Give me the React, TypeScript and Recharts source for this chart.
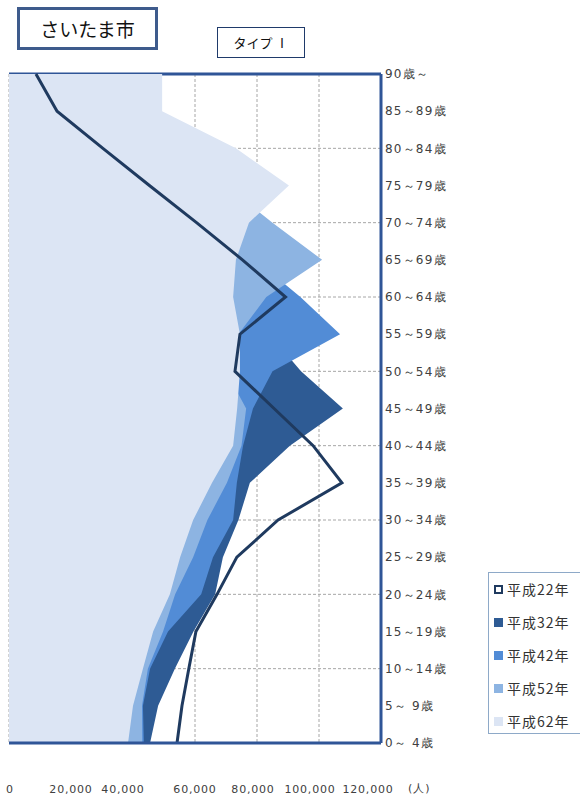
import { ComposedChart, Area, Line, XAxis, YAxis, CartesianGrid, ReferenceLine } from 'recharts';

// 年齢階級（上から90歳～、下が0～4歳）
const AGES = [
    '90歳～', '85～89歳', '80～84歳', '75～79歳', '70～74歳', '65～69歳', '60～64歳',
    '55～59歳', '50～54歳', '45～49歳', '40～44歳', '35～39歳', '30～34歳', '25～29歳',
    '20～24歳', '15～19歳', '10～14歳', '5～ 9歳', '0～ 4歳',
];

// 人口（人）
const H22 = [8700, 15500, 30300, 45300, 60500, 75300, 89200, 74500, 72900, 85500, 98100, 107400, 86800, 73500, 67100, 60300, 58000, 55800, 54200];
const H32 = [15000, 27000, 48000, 67000, 80000, 72000, 71500, 84000, 94200, 107700, 90600, 77700, 74000, 69000, 66500, 59500, 53500, 48100, 45500];
const H42 = [25000, 34000, 62000, 63000, 65000, 79500, 94000, 106800, 85000, 78700, 75500, 73500, 72300, 65800, 62000, 51300, 45500, 43200, 43500];
const H52 = [30000, 40000, 55000, 70000, 85000, 101000, 83000, 74000, 70000, 76500, 75000, 70300, 64000, 59400, 53600, 49700, 44800, 42900, 43000];
const H62 = [49400, 49400, 73200, 90300, 77400, 73200, 72300, 74500, 74500, 73600, 72300, 65500, 59400, 55200, 51900, 46500, 43200, 40000, 38400];

const X_TICKS = [0, 20000, 40000, 60000, 80000, 100000, 120000];
const GRID_AGES = ['80～84歳', '70～74歳', '60～64歳', '50～54歳', '40～44歳', '30～34歳', '20～24歳', '10～14歳'];
const LEFT_TICK_AGES = ['80～84歳', '60～64歳', '40～44歳', '20～24歳'];

// 元図の目盛ラベルは少しずれて置かれている
const X_LABEL_SHIFT: Record<number, number> = { 0: 1, 20000: 0, 40000: -10, 60000: 0, 80000: -4, 100000: -9, 120000: -13 };

const BORDER = '#2f5597';
const GRID = '#a6a6a6';

// 奥から順に描画（32年 → 62年）
const AREAS = [
    { key: 'h32', name: '平成32年', color: '#2e5b94' },
    { key: 'h42', name: '平成42年', color: '#528cd6' },
    { key: 'h52', name: '平成52年', color: '#8db4e2' },
    { key: 'h62', name: '平成62年', color: '#dce5f4' },
];
const LINE_COLOR = '#1f3a5f';

const data = AGES.map((age, i) => ({
    age,
    h22: H22[i],
    h32: H32[i],
    h42: H42[i],
    h52: H52[i],
    h62: H62[i],
}));

const fmt = (v: number) => v.toLocaleString('en-US');

const XTick = (props: any) => {
    const { x, y, payload } = props;
    const shift = X_LABEL_SHIFT[payload.value] ?? 0;
    return (
        <text x={x + shift} y={y} dy={9} textAnchor="middle" fontSize={11} fill="#404040" letterSpacing={0.8}>
            {fmt(payload.value)}
        </text>
    );
};

export default function App() {
    return (
        <div style={{ position: 'absolute', left: 0, top: 0, width: 580, height: 803, overflow: 'hidden', background: '#fff', fontFamily: '"DejaVu Sans", sans-serif' }}>
            {/* タイトル */}
            <div style={{
                position: 'absolute', left: 17, top: 7, width: 135, height: 37, border: '3px solid #3e5b8c',
                display: 'flex', alignItems: 'center', justifyContent: 'center',
                fontFamily: '"Noto Sans CJK JP"', fontSize: 19, color: '#111',
            }}>さいたま市</div>
            <div style={{
                position: 'absolute', left: 217, top: 27, width: 86, height: 29, border: '1px solid #1f3a6a',
                display: 'flex', alignItems: 'center', justifyContent: 'center',
                fontFamily: '"Noto Sans CJK JP"', fontSize: 13, color: '#111',
            }}>タイプ Ⅰ</div>

            <ComposedChart
                width={580}
                height={803}
                data={data}
                layout="vertical"
                margin={{ top: 74, right: 119, bottom: 0, left: 9 }}
            >
                <CartesianGrid horizontal={false} stroke={GRID} strokeDasharray="3 2" />
                {GRID_AGES.map(a => (
                    <ReferenceLine key={a} y={a} stroke={GRID} strokeDasharray="3 2" zIndex={50} />
                ))}
                <ReferenceLine y={AGES[0]} stroke={BORDER} strokeWidth={3} zIndex={60} />
                <XAxis
                    type="number"
                    domain={[0, 120000]}
                    ticks={X_TICKS}
                    interval={0}
                    height={60}
                    axisLine={{ stroke: BORDER, strokeWidth: 3 }}
                    tickLine={false}
                    tickSize={0}
                    tickMargin={41}
                    tick={<XTick />}
                />
                <YAxis
                    type="category"
                    dataKey="age"
                    scale="point"
                    orientation="right"
                    width={80}
                    interval={0}
                    axisLine={{ stroke: BORDER, strokeWidth: 3 }}
                    tickLine={false}
                    tickSize={2}
                    tickMargin={2}
                    tick={{ fontSize: 12, fill: '#404040', letterSpacing: 1.2 }}
                />
                <YAxis
                    yAxisId="left"
                    type="category"
                    dataKey="age"
                    scale="point"
                    orientation="left"
                    mirror
                    width={0}
                    ticks={LEFT_TICK_AGES}
                    interval={0}
                    axisLine={{ stroke: '#9aa5b5' }}
                    tickLine={{ stroke: '#9aa5b5' }}
                    tickSize={5}
                    tickFormatter={() => ''}
                />
                {AREAS.map(s => (
                    <Area
                        key={s.key}
                        type="linear"
                        dataKey={s.key}
                        name={s.name}
                        stroke="none"
                        fill={s.color}
                        fillOpacity={1}
                        isAnimationActive={false}
                    />
                ))}
                <Line
                    type="linear"
                    dataKey="h22"
                    name="平成22年"
                    stroke={LINE_COLOR}
                    strokeWidth={3}
                    dot={false}
                    activeDot={false}
                    isAnimationActive={false}
                />
            </ComposedChart>

            {/* 単位 */}
            <div style={{ position: 'absolute', left: 408, top: 781, fontSize: 11, color: '#404040', letterSpacing: 1 }}>(人)</div>

            {/* 凡例 */}
            <div style={{ position: 'absolute', left: 488, top: 572, width: 100, height: 160, border: '1px solid #8ea9c8', fontFamily: '"Noto Sans CJK JP"' }}>
                {[{ name: '平成22年', color: LINE_COLOR, hollow: true }, ...AREAS.map(a => ({ name: a.name, color: a.color, hollow: false }))].map((item, i) => (
                    <div key={item.name} style={{ position: 'absolute', left: 5, top: 6 + i * 33, height: 20, display: 'flex', alignItems: 'center' }}>
                        <span style={{
                            display: 'inline-block', width: item.hollow ? 5 : 9, height: item.hollow ? 5 : 9,
                            background: item.hollow ? '#fff' : item.color,
                            border: item.hollow ? `2px solid ${item.color}` : 'none',
                            marginRight: 4,
                        }} />
                        <span style={{ fontSize: 14, color: '#333', letterSpacing: 1 }}>{item.name}</span>
                    </div>
                ))}
            </div>
        </div>
    );
}
